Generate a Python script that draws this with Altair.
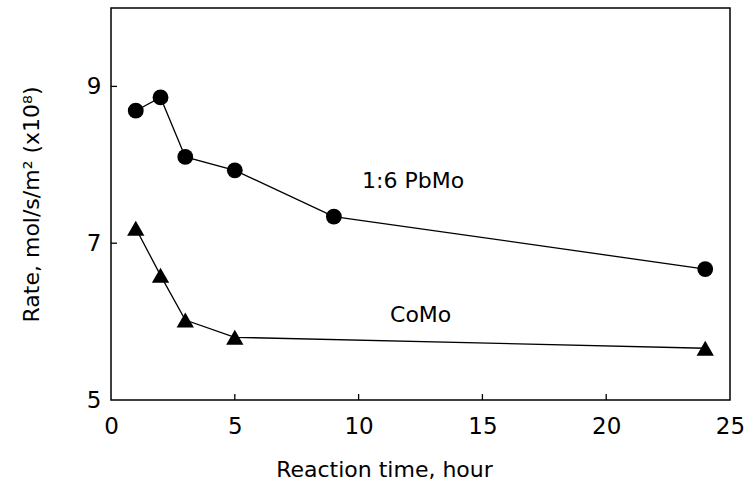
import altair as alt
import pandas as pd

# Data
pbmo_x = [1, 2, 3, 5, 9, 24]
pbmo_y = [8.69, 8.86, 8.10, 7.93, 7.34, 6.67]
como_x = [1, 2, 3, 5, 24]
como_y = [7.19, 6.59, 6.02, 5.80, 5.66]

x_ticks = [0, 5, 10, 15, 20, 25]
y_ticks = [5, 7, 9]
x_inner_ticks = [5, 10, 15, 20]
y_inner_ticks = [7, 9]

label_names = ["1:6 PbMo", "CoMo"]
label_x = [10.14, 11.27]
label_y = [7.70, 5.99]

FONT = "DejaVu Sans"
W, H = 619, 392
XDOM = [0, 25]
YDOM = [5, 10]
TICK_PX = 6

pb = pd.DataFrame({"t": pbmo_x, "r": pbmo_y})
co = pd.DataFrame({"t": como_x, "r": como_y})
lab = pd.DataFrame({"name": label_names, "t": label_x, "r": label_y})

xs = alt.Scale(domain=XDOM, nice=False, zero=False)
ys = alt.Scale(domain=YDOM, nice=False, zero=False)

xenc = alt.X("t:Q", scale=xs,
             axis=alt.Axis(values=x_ticks, title="Reaction time, hour", format="d",
                           labelFlush=False, labelOverlap=False,
                           labelPadding=15, titlePadding=21,
                           titleX=273, titleAlign="center"))
yenc = alt.Y("r:Q", scale=ys,
             axis=alt.Axis(values=y_ticks, title="Rate, mol/s/m² (x10⁸)", format="d",
                           labelFlush=False, labelOverlap=False,
                           labelPadding=10, titlePadding=43))

line_pb = alt.Chart(pb).mark_line(color="black", strokeWidth=1.3).encode(x=xenc, y=yenc)
pts_pb = alt.Chart(pb).mark_point(shape="circle", filled=True, color="black",
                                   size=250, opacity=1).encode(x="t:Q", y="r:Q")
line_co = alt.Chart(co).mark_line(color="black", strokeWidth=1.3).encode(x="t:Q", y="r:Q")
pts_co = alt.Chart(co).mark_point(shape="triangle-up", filled=True, color="black",
                                   size=300, opacity=1).encode(x="t:Q", y="r:Q")

texts = alt.Chart(lab).mark_text(align="left", baseline="alphabetic", font=FONT,
                                 fontSize=22, color="black").encode(
    x="t:Q", y="r:Q", text="name:N")

# inward tick marks
xt = pd.DataFrame({"t": x_inner_ticks})
xt["r"] = YDOM[0]
xt["r2"] = YDOM[0] + TICK_PX * (YDOM[1] - YDOM[0]) / H
yt = pd.DataFrame({"r": y_inner_ticks})
yt["t"] = XDOM[0]
yt["t2"] = XDOM[0] + TICK_PX * (XDOM[1] - XDOM[0]) / W

xtick = alt.Chart(xt).mark_rule(color="black", strokeWidth=1.3).encode(
    x="t:Q", y="r:Q", y2="r2:Q")
ytick = alt.Chart(yt).mark_rule(color="black", strokeWidth=1.3).encode(
    x="t:Q", x2="t2:Q", y="r:Q")

chart = alt.layer(line_pb, line_co, pts_pb, pts_co, texts, xtick, ytick).properties(
    width=W, height=H,
    autosize=alt.AutoSizeParams(type="none"),
    padding={"left": 111, "top": 8, "right": 21, "bottom": 91},
    background="white",
).configure_view(
    stroke="black", strokeWidth=1.5
).configure_axis(
    ticks=False, domain=False, grid=False,
    labelFont=FONT, labelFontSize=23, labelColor="black",
    titleFont=FONT, titleFontSize=22, titleColor="black", titleFontWeight="normal",
)

chart.save("out.html", embed_options={"renderer": "svg", "actions": False})
